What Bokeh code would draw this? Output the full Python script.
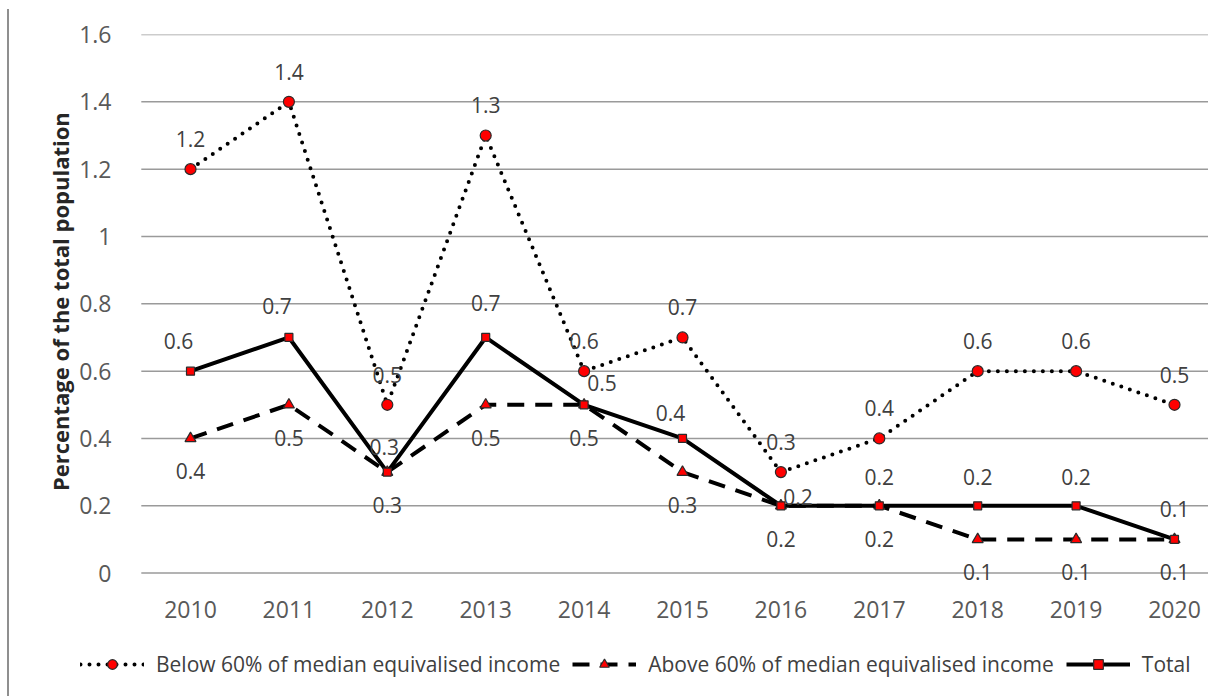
from bokeh.plotting import figure
from bokeh.models import (Range1d, FixedTicker, Legend, LegendItem, ColumnDataSource)
from bokeh.core.properties import value
from bokeh.embed import file_html
from bokeh.resources import INLINE

years = [2010, 2011, 2012, 2013, 2014, 2015, 2016, 2017, 2018, 2019, 2020]
below = [1.2, 1.4, 0.5, 1.3, 0.6, 0.7, 0.3, 0.4, 0.6, 0.6, 0.5]
above = [0.4, 0.5, 0.3, 0.5, 0.5, 0.3, 0.2, 0.2, 0.1, 0.1, 0.1]
total = [0.6, 0.7, 0.3, 0.7, 0.5, 0.4, 0.2, 0.2, 0.2, 0.2, 0.1]
y_ticks = [0, 0.2, 0.4, 0.6, 0.8, 1.0, 1.2, 1.4, 1.6]
y_tick_labels = ["0", "0.2", "0.4", "0.6", "0.8", "1", "1.2", "1.4", "1.6"]
series_names = ["Below 60% of median equivalised income",
                "Above 60% of median equivalised income",
                "Total"]
y_title = "Percentage of the total population"

# label nudges in screen pixels (kept separate from the data)
total_dx = [-12, -12, -3, 0, 18, -12, 17, 0, 0, 0, 0]
total_dy = [-30, -31, -25, -34, -22, -25, -9, -29, -29, -29, -30]

FONT = "Open Sans"
W, H = 1208, 696
LEFT, TOP = 78, 34              # frame edges (px); frame spans the legend area
FRAME_BOTTOM = 694
GRID_LEFT = 140.8               # where the plotting area of the chart starts (px)
step_px = 98.4
zero_px = 572.6                 # y pixel of value 0
px_per_unit = (zero_px - TOP) / 1.6
y_min = -(FRAME_BOTTOM - zero_px) / px_per_unit
x_start = 2009.5 - (GRID_LEFT - LEFT) / step_px
x_end = x_start + (W - LEFT) / step_px

p = figure(width=W, height=H, output_backend="svg", toolbar_location=None,
           x_range=Range1d(x_start, x_end),
           y_range=Range1d(y_min, 1.6),
           min_border_left=LEFT, min_border_right=0,
           min_border_top=TOP, min_border_bottom=H - FRAME_BOTTOM)
p.styles = {"background": "linear-gradient(#8f8f8f, #8f8f8f) 7px 9px / 2px 100% no-repeat, white"}
p.outline_line_color = None
p.background_fill_color = None
p.border_fill_color = None
p.grid.grid_line_color = None

# horizontal gridlines at the y ticks, spanning the chart's plotting area
n = len(y_ticks)
p.segment(x0=[2009.5] * n, y0=y_ticks, x1=[x_end] * n, y1=y_ticks,
          line_color="#9a9a9a", line_width=1.5, level="underlay")

p.yaxis.ticker = FixedTicker(ticks=y_ticks)
p.yaxis.major_label_overrides = {t: l for t, l in zip(y_ticks, y_tick_labels)}
p.xaxis.ticker = FixedTicker(ticks=years)
p.xaxis.major_label_overrides = {y: str(y) for y in years}
for ax in (p.xaxis[0], p.yaxis[0]):
    ax.axis_line_color = None
    ax.major_tick_line_color = None
    ax.minor_tick_line_color = None
    ax.major_label_text_font = FONT
    ax.major_label_text_font_size = "23px"
    ax.major_label_text_color = "#595959"
p.yaxis.major_label_standoff = -39
p.xaxis.major_label_standoff = -100
# the frame reaches down to the legend, so the title is padded (non-breaking
# spaces) to sit centred on the value range as in the original
p.yaxis.axis_label = "\u00a0" * 22 + y_title
p.yaxis.axis_label_text_font = FONT
p.yaxis.axis_label_text_font_size = "22px"
p.yaxis.axis_label_text_font_style = "bold"
p.yaxis.axis_label_text_color = "#262626"
p.yaxis.axis_label_standoff = 1

red = "#ff0000"
edge = "#2b2b2b"

r1l = p.line(years, below, line_color="black", line_width=4,
             line_dash="0 9", line_cap="round")
r1m = p.scatter(years, below, marker="circle", size=11, fill_color=red,
                line_color=edge, line_width=1.2)
r2l = p.line(years, above, line_color="black", line_width=4, line_dash="17 11")
r2m = p.scatter(years, above, marker="triangle", size=11, fill_color=red,
                line_color=edge, line_width=1.2)
r3l = p.line(years, total, line_color="black", line_width=4)
r3m = p.scatter(years, total, marker="square", size=8, fill_color=red,
                line_color=edge, line_width=1.2)

lab_kw = dict(text_font=value(FONT), text_font_size="21px", text_color="#404040",
              text_align="center", text_baseline="middle")
src_b = ColumnDataSource(dict(x=years, y=below, t=[f"{v:g}" for v in below]))
p.text(x="x", y="y", text="t", source=src_b, y_offset=-30, **lab_kw)
src_a = ColumnDataSource(dict(x=years, y=above, t=[f"{v:g}" for v in above]))
p.text(x="x", y="y", text="t", source=src_a, y_offset=33, **lab_kw)
src_t = ColumnDataSource(dict(x=years, y=total, t=[f"{v:g}" for v in total],
                              dx=total_dx, dy=total_dy))
p.text(x="x", y="y", text="t", source=src_t, x_offset="dx", y_offset="dy", **lab_kw)

legend = Legend(items=[
    LegendItem(label=series_names[0], renderers=[r1l, r1m]),
    LegendItem(label=series_names[1], renderers=[r2l, r2m]),
    LegendItem(label=series_names[2], renderers=[r3l, r3m]),
], orientation="horizontal", location=(2, 16),
    glyph_width=64, glyph_height=24, label_standoff=12, spacing=12,
    padding=0, margin=0, border_line_color=None, background_fill_alpha=0,
    label_text_font=FONT, label_text_font_size="21px", label_text_color="#404040")
p.add_layout(legend, "center")

open("out.html", "w").write(file_html(p, INLINE))
